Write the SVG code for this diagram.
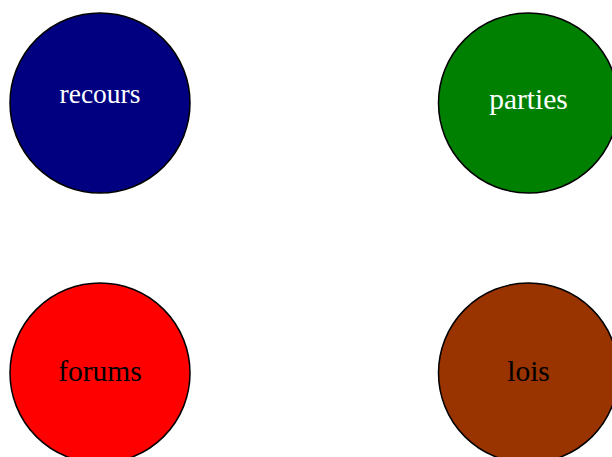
<svg xmlns="http://www.w3.org/2000/svg" width="612" height="457" viewBox="0 0 612 457">
<style>
circle{stroke:#000;stroke-width:1.5}
text{font-family:"Liberation Serif","Times New Roman",serif;font-size:29.5px;text-anchor:middle}
</style>
<rect width="612" height="457" fill="#fff"/>
<g id="connectors"></g>
<g id="recours"><circle cx="100" cy="103" r="90" fill="#000080"/><text x="100" y="102.5" fill="#fff" style="font-size:27.5px">recours</text></g>
<g id="parties"><circle cx="528.5" cy="103" r="90" fill="#008000"/><text x="528.5" y="108.5" fill="#fff">parties</text></g>
<g id="forums"><circle cx="100" cy="373" r="90" fill="#ff0000"/><text x="100" y="380.5" fill="#000">forums</text></g>
<g id="lois"><circle cx="528.5" cy="373" r="90" fill="#993300"/><text x="528.5" y="380.5" fill="#000">lois</text></g>
</svg>
